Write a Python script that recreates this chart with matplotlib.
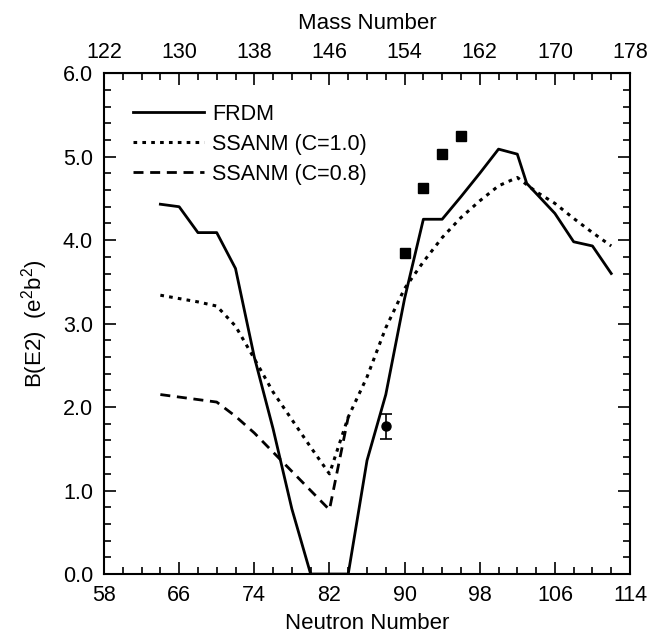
import matplotlib
matplotlib.use("Agg")
import matplotlib.pyplot as plt
from matplotlib.ticker import MultipleLocator, FormatStrFormatter

plt.rcParams["font.family"] = ["Liberation Sans", "DejaVu Sans"]
plt.rcParams["mathtext.default"] = "regular"

# FRDM (solid)
n_frdm = [64, 66, 68, 70, 72, 74, 76, 78, 80, 82, 84, 86, 88, 90, 92, 94,
          96, 98, 100, 102, 103, 104, 106, 108, 110, 112]
be2_frdm = [4.43, 4.40, 4.09, 4.09, 3.66, 2.60, 1.74, 0.78, 0.0, 0.0, 0.0,
            1.36, 2.15, 3.30, 4.25, 4.25, 4.52, 4.80, 5.09, 5.03, 4.68,
            4.56, 4.32, 3.98, 3.93, 3.60]

# SSANM C=1.0 (dotted)
n_ssanm = [64, 66, 68, 70, 72, 74, 76, 78, 80, 82, 84, 86, 88, 90, 92, 94,
           96, 98, 100, 102, 104, 106, 108, 110, 112]
be2_c10 = [3.34, 3.30, 3.26, 3.21, 2.97, 2.58, 2.18, 1.85, 1.52, 1.20, 1.88,
           2.36, 2.95, 3.42, 3.74, 4.03, 4.27, 4.47, 4.65, 4.75, 4.58, 4.44,
           4.26, 4.09, 3.93]

# SSANM C=0.8 (dashed)
n_c08 = [64, 66, 68, 70, 72, 74, 76, 78, 80, 82, 84]
be2_c08 = [2.15, 2.12, 2.09, 2.06, 1.89, 1.69, 1.46, 1.23, 1.00, 0.77, 1.88]

# measurements
n_sq = [90, 92, 94, 96]
be2_sq = [3.84, 4.63, 5.03, 5.25]
err_sq = [0.04, 0.04, 0.04, 0.05]
n_circ = [88]
be2_circ = [1.77]
err_circ = [0.15]

n_ticks = list(range(58, 115, 8))
mass_ticks = list(range(122, 179, 8))

fig = plt.figure(figsize=(6.62, 6.34), dpi=100)
ax = fig.add_axes([0.1571, 0.0946, 0.7946, 0.790])

ax.plot(n_frdm, be2_frdm, color="black", lw=2.0, label="FRDM")
ax.plot(n_ssanm, be2_c10, color="black", lw=2.2, linestyle=(0, (1.2, 1.7)),
        label="SSANM (C=1.0)")
ax.plot(n_c08, be2_c08, color="black", lw=2.0, linestyle=(0, (3.6, 2.4)),
        label="SSANM (C=0.8)")

ax.errorbar(n_sq, be2_sq, yerr=err_sq, fmt="s", color="black", ms=6.5,
            capsize=3, elinewidth=1.2, capthick=1.2)
ax.errorbar(n_circ, be2_circ, yerr=err_circ, fmt="o", color="black", ms=6.5,
            capsize=4, elinewidth=1.2, capthick=1.2)

ax.set_xlim(58, 114)
ax.set_ylim(0, 6.0)
ax.set_xticks(n_ticks)
ax.xaxis.set_minor_locator(MultipleLocator(2))
ax.yaxis.set_major_locator(MultipleLocator(1.0))
ax.yaxis.set_minor_locator(MultipleLocator(0.2))
ax.yaxis.set_major_formatter(FormatStrFormatter("%.1f"))

ax.tick_params(which="both", direction="in", top=False, right=True,
               width=1.2, labelsize=15.5, pad=8)
ax.tick_params(which="major", length=8.5)
ax.tick_params(which="minor", length=4.7)
for sp in ax.spines.values():
    sp.set_linewidth(1.5)

sec = ax.secondary_xaxis("top", functions=(lambda n: n + 64, lambda m: m - 64))
sec.set_xticks(mass_ticks)
sec.xaxis.set_minor_locator(MultipleLocator(2))
sec.tick_params(which="both", direction="in", width=1.2, labelsize=15.5, pad=7)
sec.tick_params(which="major", length=8.5)
sec.tick_params(which="minor", length=4.7)
sec.set_xlabel("Mass Number", fontsize=16, labelpad=10)

ax.set_xlabel("Neutron Number", fontsize=16, labelpad=5)
ax.set_ylabel("B(E2)  (e$^2$b$^2$)", fontsize=16, labelpad=9)

ax.legend(loc="upper left", bbox_to_anchor=(0.0546, 0.939), frameon=False,
          fontsize=15.5, handlelength=3.3, handletextpad=0.4,
          labelspacing=0.42, borderpad=0, borderaxespad=0)

fig.savefig("out.png", dpi=100)
